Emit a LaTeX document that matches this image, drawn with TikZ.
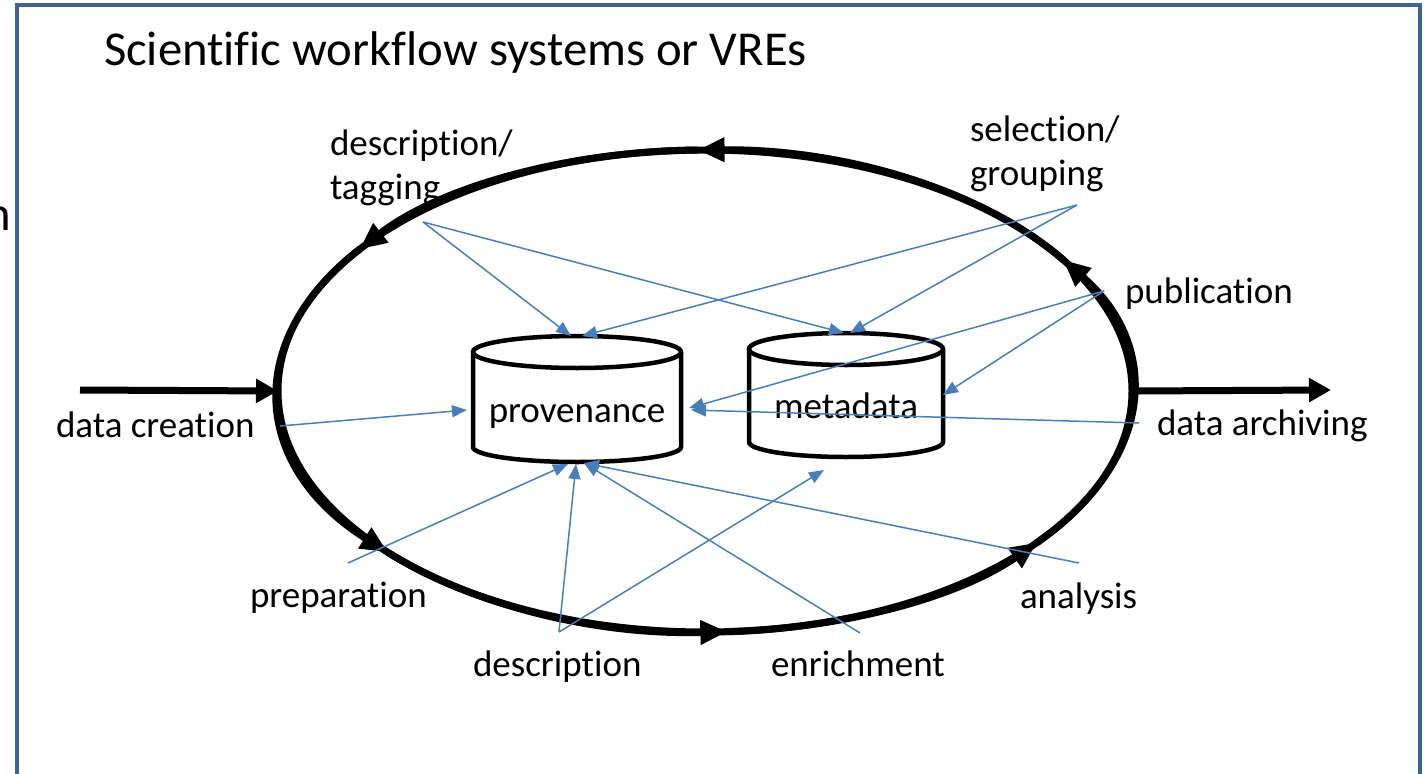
\documentclass[tikz,border=0pt]{standalone}
\usepackage{fontspec}
\setmainfont{Carlito}[RawFeature={-liga;-clig;-dlig;-calt;-rlig}]
\usetikzlibrary{arrows.meta, shapes.geometric, calc}
\definecolor{framec}{RGB}{64,98,142}
\definecolor{linkc}{RGB}{74,126,187}
\newcommand{\lblsize}{\fontsize{37}{44}\selectfont}
\newcommand{\ttlsize}{\fontsize{48.7}{58}\selectfont}
% cylinder outline round a named node: #1 node, #2 x radius
\newcommand{\dbcyl}[2]{%
  \draw[dbline] ([yshift=-16pt]#1.north west) -- ([yshift=15pt]#1.south west)
    arc[start angle=180, end angle=0, x radius=#2, y radius=15]
    -- ([yshift=-16pt]#1.north east);
  \draw[dbline] ([yshift=-16pt]#1.north) ellipse [x radius=#2, y radius=16];
}

\begin{document}
\begin{tikzpicture}[x=1pt, y=-1pt,
    lbl/.style={font=\lblsize, inner sep=0, outer sep=0, anchor=base west, align=left},
    dbnode/.style={font=\lblsize, inner sep=0, outer sep=0, text height=50pt, text depth=4pt},
    dbline/.style={line width=4.5pt},
    cyc/.style={line width=7pt, -{Triangle[length=27pt, width=23pt]}},
    bigarrow/.style={line width=7pt, -{Triangle[length=22pt, width=23pt]}},
    link/.style={linkc, line width=1.5pt, -{Triangle[length=15pt, width=12pt]}}]

    \useasboundingbox (0,0) rectangle (1428,774);
    \draw[framec, line width=4pt] (17,5) rectangle (1420,800);

    \node[lbl, font=\ttlsize] (title) at (104,65) {Scientific workflow systems or VREs};
    \node[lbl, font=\ttlsize, anchor=base east] (cut) at (11,230) {n};

    % the workflow loop
    \node[ellipse, minimum width=854, minimum height=482, inner sep=0, outer sep=0] (wf) at (705,391) {};
    \draw[line width=7pt] (wf.center) ellipse [x radius=427, y radius=241];
    \foreach \a/\b in {-39/33, 33/91, 91/144, 144/222, 222/273, 273/321}
        \draw[cyc] ([shift={(-\a:427 and 241)}]wf.center)
            arc[start angle=-\a, end angle=-\b, x radius=427, y radius=241];

    \coordinate (dcin) at (80,390);
    \coordinate (daout) at (1331,390);
    \draw[bigarrow] (dcin) -- (wf.west);
    \draw[bigarrow] (wf.east) -- (daout);

    % stores
    \node[dbnode, minimum width=208, minimum height=126] (prov) at (577,399) {provenance};
    \node[dbnode, minimum width=194, minimum height=124] (meta) at (846,395) {metadata};
    \dbcyl{prov}{104}
    \dbcyl{meta}{97}

    % labels
    \node[lbl] (dtag) at (330,199) {description/\\tagging};
    \node[lbl] (selgrp) at (970,185) {selection/\\grouping};
    \node[lbl] (publ) at (1125,303) {publication};
    \node[lbl] (dcre) at (56,437) {data creation};
    \node[lbl] (darc) at (1157,435) {data archiving};
    \node[lbl] (prep) at (250,607) {preparation};
    \node[lbl] (desc) at (473,676) {description};
    \node[lbl] (enr) at (771,676) {enrichment};
    \node[lbl] (ana) at (1020,608) {analysis};

    \coordinate (dtagp) at (423,222);
    \coordinate (selp) at (1077,205);
    \coordinate (pubp) at (1104,291);
    \coordinate (dcp) at (280,426);
    \coordinate (dap) at (1139,423);
    \coordinate (prepp) at (348,563);
    \coordinate (descp) at (559,632);
    \coordinate (enrp) at (860,633);
    \coordinate (anap) at (1079,563);

    \draw[link] (dtagp) -- ([xshift=-6pt]prov.north);
    \draw[link] (dtagp) -- ([xshift=-2pt]meta.north);
    \draw[link] (selp) -- ([xshift=5pt]prov.north);
    \draw[link] (selp) -- ([xshift=4pt]meta.north);
    \draw[link] (pubp) -- ([shift={(8pt,-9pt)}]prov.east);
    \draw[link] (pubp) -- (meta.east);
    \draw[link] (dap) -- ([shift={(10pt,-11pt)}]prov.east);
    \draw[link] (dcp) -- ([shift={(-6pt,-11pt)}]prov.west);
    \draw[link] (prepp) -- ([shift={(-9pt,-2pt)}]prov.south);
    \draw[link] (descp) -- ([shift={(-1pt,-2pt)}]prov.south);
    \draw[link] (descp) -- ([shift={(-22pt,-13pt)}]meta.south);
    \draw[link] (enrp) -- ([shift={(7pt,-1pt)}]prov.south);
    \draw[link] (anap) -- ([shift={(7pt,-1pt)}]prov.south);
\end{tikzpicture}
\end{document}
